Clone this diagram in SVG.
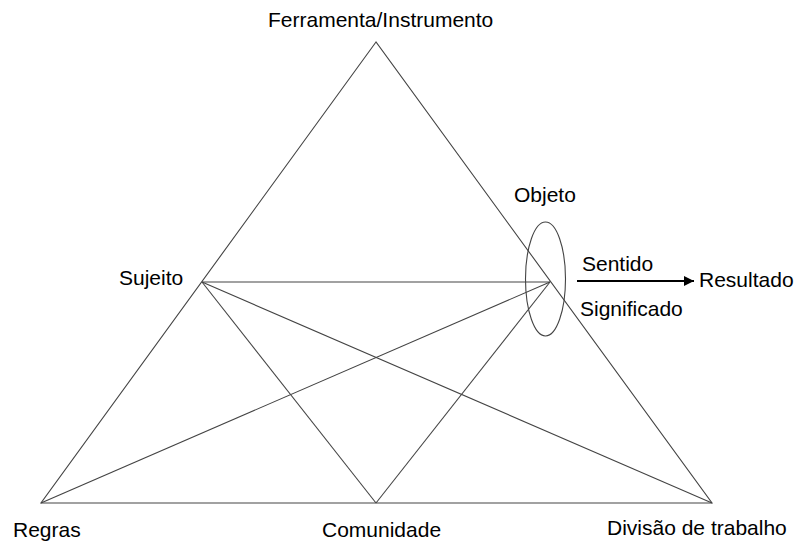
<svg xmlns="http://www.w3.org/2000/svg" width="795" height="543" viewBox="0 0 795 543">
<defs>
<style>
.lbl{font-family:"Liberation Sans",Arial,sans-serif;font-size:21px;fill:#000}
.ln{stroke:#444;stroke-width:1.1;fill:none}
</style>
<marker id="ah" viewBox="0 0 10 10" refX="10" refY="5" markerWidth="5" markerHeight="5" orient="auto" markerUnits="strokeWidth">
<path d="M0,0 L10,5 L0,10 z" fill="#000"/>
</marker>
</defs>
<rect width="795" height="543" fill="#fff"/>
<g id="connectors">
<polygon class="ln" points="376,42 41,503 712,503"/>
<line class="ln" x1="202" y1="282" x2="550" y2="282"/>
<line class="ln" x1="202" y1="282" x2="376" y2="503"/>
<line class="ln" x1="202" y1="282" x2="712" y2="503"/>
<line class="ln" x1="550" y1="282" x2="41" y2="503"/>
<line class="ln" x1="550" y1="282" x2="376" y2="503"/>
<line x1="577" y1="281" x2="694" y2="281" stroke="#000" stroke-width="2" marker-end="url(#ah)"/>
</g>
<g id="objeto-ellipse">
<ellipse cx="545.5" cy="279" rx="20" ry="57" class="ln"/>
</g>
<g id="ferramenta"><text class="lbl" x="268" y="27">Ferramenta/Instrumento</text></g>
<g id="objeto"><text class="lbl" x="514" y="202">Objeto</text></g>
<g id="sujeito"><text class="lbl" x="119" y="285">Sujeito</text></g>
<g id="sentido"><text class="lbl" x="582" y="271">Sentido</text></g>
<g id="resultado"><text class="lbl" x="699" y="287">Resultado</text></g>
<g id="significado"><text class="lbl" x="580" y="316">Significado</text></g>
<g id="regras"><text class="lbl" x="13" y="537">Regras</text></g>
<g id="comunidade"><text class="lbl" x="322" y="537">Comunidade</text></g>
<g id="divisao"><text class="lbl" x="607" y="535">Divisão de trabalho</text></g>
</svg>
